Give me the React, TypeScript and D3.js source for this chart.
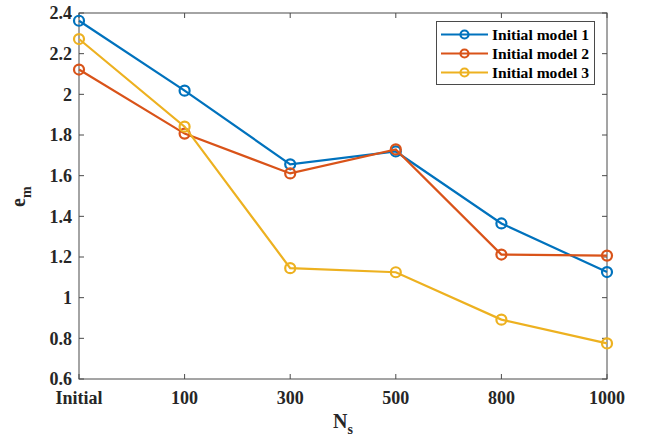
import React from "react";
import * as d3 from "d3";

const categories = ["Initial", "100", "300", "500", "800", "1000"];
const model1 = [2.362, 2.018, 1.656, 1.719, 1.365, 1.126];
const model2 = [2.122, 1.807, 1.611, 1.729, 1.212, 1.207];
const model3 = [2.272, 1.841, 1.145, 1.125, 0.892, 0.775];
const seriesNames = ["Initial model 1", "Initial model 2", "Initial model 3"];
const yTicks = [0.6, 0.8, 1, 1.2, 1.4, 1.6, 1.8, 2, 2.2, 2.4];

const colors = ["#0072BD", "#D95319", "#EDB120"];
const W = 648, H = 438;
const L = 79, R = 607, T = 13, B = 379;
const font = "'Liberation Serif', 'Times New Roman', serif";
const axisColor = "#4a4a4a";
const textColor = "#262626";

export default function App() {
  const x = d3.scalePoint<string>().domain(categories).range([L, R]);
  const y = d3.scaleLinear().domain([0.6, 2.4]).range([B, T]);
  const series = [model1, model2, model3];
  const line = d3.line<number>().x((_, i) => x(categories[i])!).y((v) => y(v));
  const tl = 5;
  return (
    <svg width={W} height={H} style={{ position: "absolute", left: 0, top: 0, background: "#fff" }}>
      <rect x={0} y={0} width={W} height={H} fill="#fff" />
      {/* box */}
      <rect x={L} y={T} width={R - L} height={B - T} fill="none" stroke={axisColor} strokeWidth={1} />
      {/* x ticks */}
      {categories.map((c) => (
        <g key={c}>
          <line x1={x(c)} x2={x(c)} y1={B} y2={B - tl} stroke={axisColor} />
          <line x1={x(c)} x2={x(c)} y1={T} y2={T + tl} stroke={axisColor} />
          <text x={x(c)} y={404} textAnchor="middle" fontFamily={font} fontWeight="bold" fontSize={18} fill={textColor}>{c}</text>
        </g>
      ))}
      {yTicks.map((t) => (
        <g key={t}>
          <line x1={L} x2={L + tl} y1={y(t)} y2={y(t)} stroke={axisColor} />
          <line x1={R} x2={R - tl} y1={y(t)} y2={y(t)} stroke={axisColor} />
          <text x={72} y={y(t)} dy="0.35em" textAnchor="end" fontFamily={font} fontWeight="bold" fontSize={18} fill={textColor}>{d3.format("~g")(t)}</text>
        </g>
      ))}
      {/* series */}
      {series.map((s, si) => (
        <g key={si}>
          <path d={line(s)!} fill="none" stroke={colors[si]} strokeWidth={2.2} />
          {s.map((v, i) => (
            <circle key={i} cx={x(categories[i])} cy={y(v)} r={5} fill="none" stroke={colors[si]} strokeWidth={2.2} />
          ))}
        </g>
      ))}
      {/* axis labels */}
      <text x={333} y={428} fontFamily={font} fontWeight="bold" fontSize={20} fill={textColor}>
        N<tspan fontSize={14} dy={6}>s</tspan>
      </text>
      <text transform="translate(25,207) rotate(-90)" fontFamily={font} fontWeight="bold" fontSize={20} fill={textColor}>
        e<tspan fontSize={14} dy={6}>m</tspan>
      </text>
      {/* legend */}
      <rect x={436.5} y={21.5} width={158} height={63} fill="#fff" stroke={axisColor} strokeWidth={1} />
      {seriesNames.map((n, i) => {
        const ly = 34.5 + i * 19;
        return (
          <g key={n}>
            <line x1={441} x2={488} y1={ly} y2={ly} stroke={colors[i]} strokeWidth={2.2} />
            <circle cx={464.5} cy={ly} r={4} fill="none" stroke={colors[i]} strokeWidth={2.2} />
            <text x={492} y={ly} dy="0.35em" fontFamily={font} fontWeight="bold" fontSize={15.6} fill="#000">{n}</text>
          </g>
        );
      })}
    </svg>
  );
}
